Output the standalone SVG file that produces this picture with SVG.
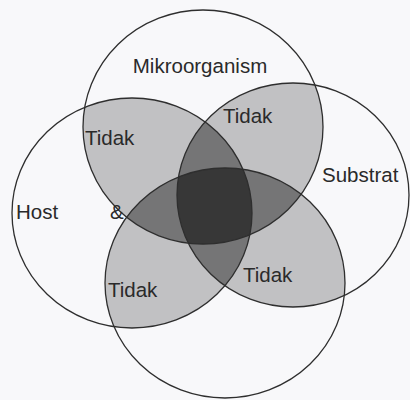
<svg xmlns="http://www.w3.org/2000/svg" width="410" height="400" viewBox="0 0 410 400">
<style>
.sh{fill:#000;fill-opacity:0.22}
.c{fill:none;stroke:#2e2e2e;stroke-width:1.3}
.t{font-family:"Liberation Sans",Arial,sans-serif;font-size:20.5px;fill:#2a2a2a}
</style>
<defs>
<ellipse id="eT" cx="203" cy="127" rx="120" ry="117"/>
<ellipse id="eL" cx="132" cy="213" rx="120" ry="115"/>
<ellipse id="eR" cx="293" cy="195" rx="116" ry="112"/>
<ellipse id="eB" cx="225" cy="283" rx="120" ry="115"/>
<clipPath id="cT"><use href="#eT"/></clipPath>
<clipPath id="cL"><use href="#eL"/></clipPath>
<clipPath id="cR"><use href="#eR"/></clipPath>
<clipPath id="cB"><use href="#eB"/></clipPath>
</defs>
<rect width="410" height="400" fill="#f8f8fa"/>
<g id="shading">
<use href="#eT" class="sh" clip-path="url(#cL)"/>
<use href="#eT" class="sh" clip-path="url(#cR)"/>
<use href="#eT" class="sh" clip-path="url(#cB)"/>
<use href="#eL" class="sh" clip-path="url(#cR)"/>
<use href="#eL" class="sh" clip-path="url(#cB)"/>
<use href="#eR" class="sh" clip-path="url(#cB)"/>
</g>
<g id="mikroorganism">
<use href="#eT" class="c"/>
<text class="t" x="200" y="73" text-anchor="middle">Mikroorganism</text>
</g>
<g id="host">
<use href="#eL" class="c"/>
<text class="t" x="16" y="219">Host</text>
<text class="t" x="110" y="219">&amp;</text>
</g>
<g id="substrat">
<use href="#eR" class="c"/>
<text class="t" x="322" y="182">Substrat</text>
</g>
<g id="bottom">
<use href="#eB" class="c"/>
</g>
<g id="labels">
<text class="t" x="85" y="145">Tidak</text>
<text class="t" x="223" y="123">Tidak</text>
<text class="t" x="108" y="297">Tidak</text>
<text class="t" x="243" y="282">Tidak</text>
</g>
</svg>
